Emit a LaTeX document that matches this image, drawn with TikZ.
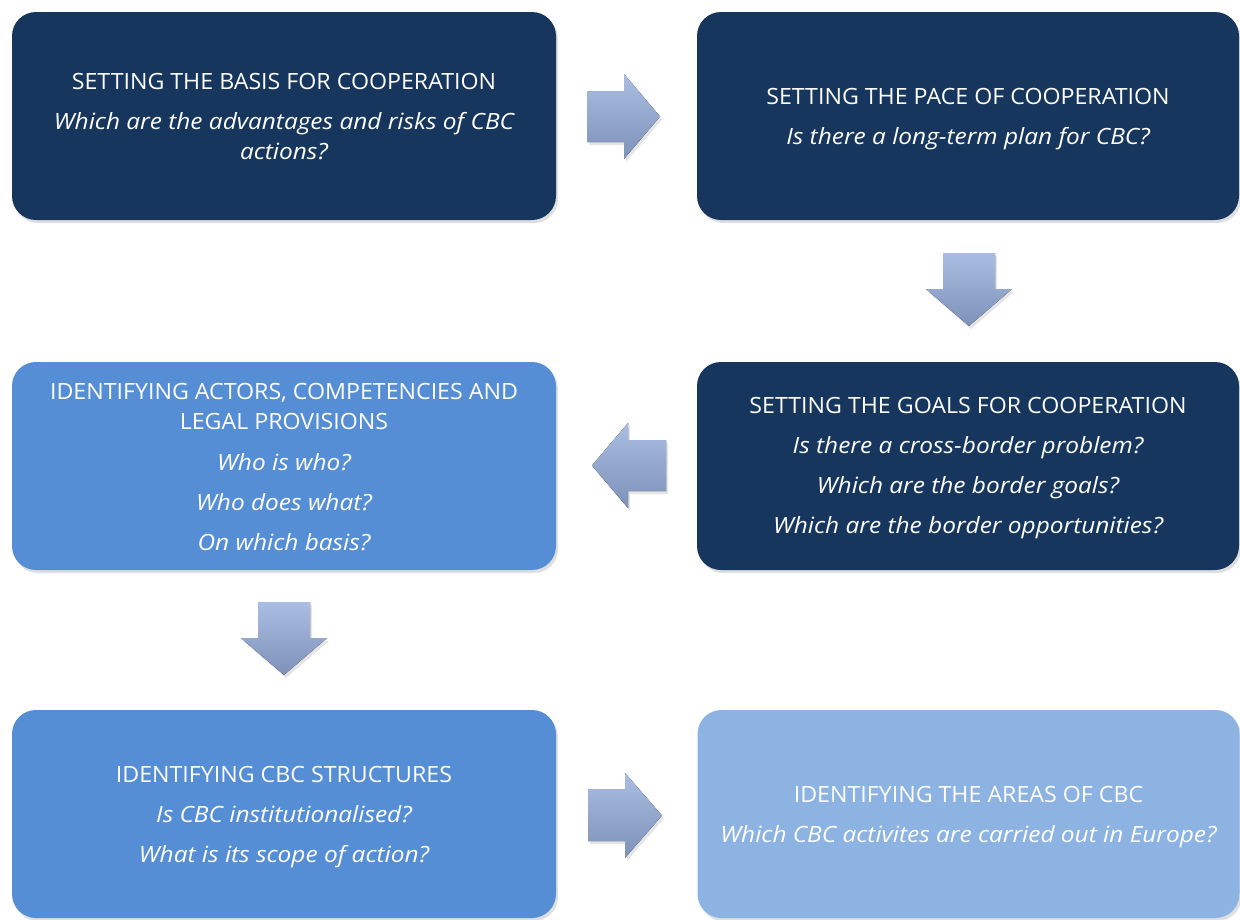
\documentclass[tikz,border=0pt]{standalone}
\usepackage{fontspec}
\setmainfont{Open Sans}[UprightFeatures={FakeStretch=1.035},ItalicFeatures={FakeStretch=1.09}]
\usetikzlibrary{shadows}
\definecolor{navy}{RGB}{23,54,93}
\definecolor{midblue}{RGB}{85,142,213}
\definecolor{lightblue}{RGB}{141,179,226}
\definecolor{arrtop}{RGB}{170,189,226}
\definecolor{arrbot}{RGB}{126,145,184}
\newcommand\qq[1]{{\itshape #1}}
\begin{document}
\begin{tikzpicture}[x=1pt,y=-1pt,
  box/.style={rounded corners=24pt, minimum height=208pt, inner sep=0pt,
    drop shadow={shadow xshift=2pt, shadow yshift=-3pt, opacity=0.25}},
  leftbox/.style={box, minimum width=544pt},
  rightbox/.style={box, minimum width=542pt},
  boxtext/.style={inner sep=0pt, text=white, align=center,
    font=\fontsize{22.4}{30}\selectfont},
  blockarrow/.style={top color=arrtop, bottom color=arrbot,
    drop shadow={shadow xshift=2pt, shadow yshift=-3pt, opacity=0.2}}]
\useasboundingbox (0,0) rectangle (1240,919);
\fill[white] (0,0) rectangle (1240,919);

\node[leftbox, fill=navy] (basis) at (284,116) {};
\node[boxtext] (basis-t) at ([yshift=-1pt]basis.center)
  {SETTING THE BASIS FOR COOPERATION\\[10pt]
   \qq{Which are the advantages and risks of CBC}\\
   \qq{actions?}};
\node[rightbox, fill=navy] (pace) at (968,116) {};
\node[boxtext] (pace-t) at ([yshift=-3pt]pace.center)
  {SETTING THE PACE OF COOPERATION\\[10pt]
   \qq{Is there a long-term plan for CBC?}};
\node[rightbox, fill=navy] (goals) at (968,466) {};
\node[boxtext] (goals-t) at ([yshift=-2.5pt]goals.center)
  {SETTING THE GOALS FOR COOPERATION\\[10pt]
   \qq{Is there a cross-border problem?}\\[10pt]
   \qq{Which are the border goals?}\\[10pt]
   \qq{Which are the border opportunities?}};
\node[leftbox, fill=midblue] (actors) at (284,466) {};
\node[boxtext] (actors-t) at ([yshift=-1pt]actors.center)
  {IDENTIFYING ACTORS, COMPETENCIES AND\\
   LEGAL PROVISIONS\\[11pt]
   \qq{Who is who?}\\[10pt]
   \qq{Who does what?}\\[10pt]
   \qq{On which basis?}};
\node[leftbox, fill=midblue] (structures) at (284,814) {};
\node[boxtext] (structures-t) at ([yshift=-3pt]structures.center)
  {IDENTIFYING CBC STRUCTURES\\[10pt]
   \qq{Is CBC institutionalised?}\\[10pt]
   \qq{What is its scope of action?}};
\node[rightbox, fill=lightblue] (areas) at (968.5,814) {};
\node[boxtext] (areas-t) at ([yshift=-3pt]areas.center)
  {IDENTIFYING THE AREAS OF CBC\\[10pt]
   \qq{Which CBC activites are carried out in Europe?}};

% block arrows
\fill[blockarrow] (587,91) -- (624,91) -- (624,74) -- (660,116.5)
  -- (624,159) -- (624,142) -- (587,142) -- cycle;
\fill[blockarrow] (943,253) -- (995,253) -- (995,289) -- (1012,289)
  -- (969,326) -- (926,289) -- (943,289) -- cycle;
\fill[blockarrow] (666,440) -- (628,440) -- (628,423) -- (592,465.5)
  -- (628,508) -- (628,491) -- (666,491) -- cycle;
\fill[blockarrow] (258,602) -- (310,602) -- (310,638) -- (327,638)
  -- (284,675) -- (241,638) -- (258,638) -- cycle;
\fill[blockarrow] (588,789) -- (625,789) -- (625,773) -- (662,815.5)
  -- (625,858) -- (625,841) -- (588,841) -- cycle;
\end{tikzpicture}
\end{document}
